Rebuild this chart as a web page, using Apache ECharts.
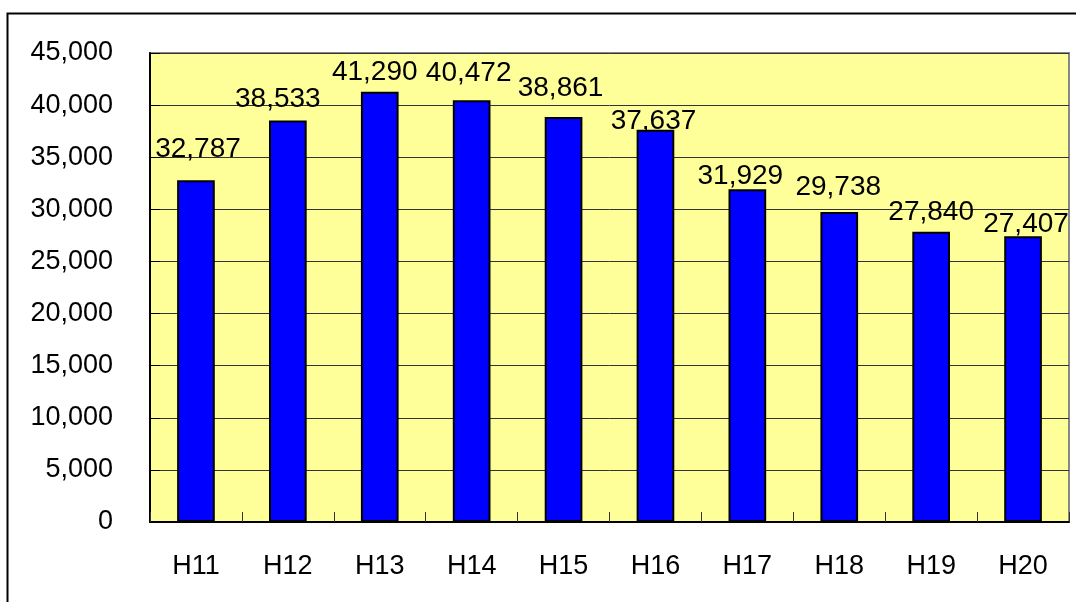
<!DOCTYPE html>
<html>
<head>
<meta charset="utf-8">
<script src="https://cdn.jsdelivr.net/npm/echarts@6/dist/echarts.min.js"></script>
<style>
html,body{margin:0;padding:0;background:#fff;}
#chart{width:1076px;height:602px;}
</style>
</head>
<body>
<div id="chart"></div>
<script>
const categories = ['H11','H12','H13','H14','H15','H16','H17','H18','H19','H20'];
const values = [32787, 38533, 41290, 40472, 38861, 37637, 31929, 29738, 27840, 27407];
const yTicks = [0, 5000, 10000, 15000, 20000, 25000, 30000, 35000, 40000, 45000];

// label placement tweaks (style only, in px)
const labelOffsets = [[2,-17],[-10,-7],[-5,-5],[-3,-13],[-3,-15],[-2,6],[-7,1],[-1,-11],[0,-6],[3,2]];

const FONT = '"Liberation Sans", Arial, sans-serif';
const chart = echarts.init(document.getElementById('chart'));
const fmt = v => v.toLocaleString('en-US');

chart.setOption({
  animation: false,
  backgroundColor: '#fff',
  graphic: [{
    type: 'rect',
    left: 5, top: 11,
    shape: {width: 1200, height: 800},
    style: {fill: 'none', stroke: '#000', lineWidth: 2},
    silent: true, z: 100
  }],
  grid: {
    left: 150, top: 53, right: 7, bottom: 80,
    show: true, backgroundColor: '#FFFF99', borderColor: '#888', borderWidth: 2
  },
  xAxis: {
    type: 'category',
    data: categories,
    axisLine: {lineStyle: {color: '#000', width: 2}},
    axisTick: {show: true, inside: true, length: 10, alignWithLabel: false, lineStyle: {color: '#333', width: 1}},
    axisLabel: {fontFamily: FONT, fontSize: 27, color: '#000', margin: 31}
  },
  yAxis: {
    type: 'value',
    min: yTicks[0], max: yTicks[yTicks.length-1], interval: yTicks[1]-yTicks[0],
    axisLine: {show: true, lineStyle: {color: '#000', width: 2}},
    axisTick: {show: true, inside: true, length: 10, lineStyle: {color: '#000'}},
    splitLine: {show: true, lineStyle: {color: '#333', width: 1}},
    axisLabel: {fontFamily: FONT, fontSize: 27, color: '#000', margin: 37, formatter: v => fmt(v)}
  },
  series: [{
    type: 'bar',
    barWidth: '41%',
    data: values.map((v, i) => ({
      value: v,
      label: {offset: labelOffsets[i]}
    })),
    itemStyle: {color: '#0000FF', borderColor: '#000', borderWidth: 2},
    label: {
      show: true, position: 'top', distance: 0,
      fontFamily: FONT, fontSize: 28, color: '#000',
      formatter: p => fmt(p.value)
    },
    z: 3
  }]
});
</script>
</body>
</html>
